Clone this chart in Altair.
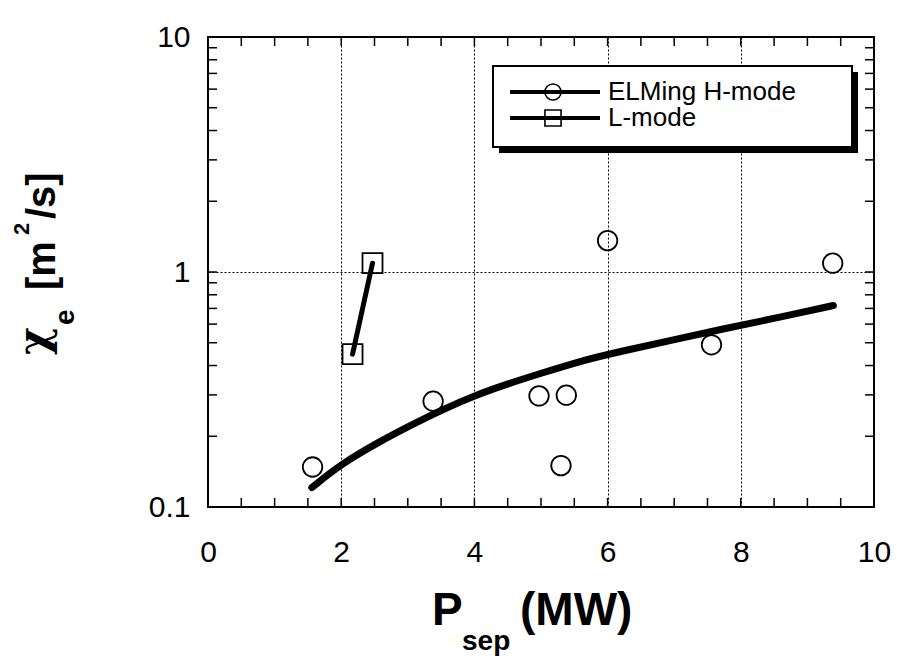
import altair as alt
import pandas as pd

# ---- data ----
h_x = [1.57, 3.38, 4.97, 5.38, 5.30, 6.0, 7.56, 9.38]
h_y = [0.148, 0.282, 0.297, 0.299, 0.150, 1.36, 0.49, 1.09]

l_x = [2.17, 2.47]
l_y = [0.447, 1.09]

fit_x = [1.56, 1.99, 2.58, 3.03, 3.97, 5.12, 5.57, 5.97, 7.94, 8.57, 9.39]
fit_y = [0.121, 0.152, 0.190, 0.222, 0.300, 0.380, 0.415, 0.445, 0.590, 0.640, 0.72]

x_ticks = [0, 2, 4, 6, 8, 10]
y_ticks = [0.1, 1, 10]
x_minor = [0.5, 1, 1.5, 2, 2.5, 3, 3.5, 4, 4.5, 5, 5.5, 6, 6.5, 7, 7.5, 8, 8.5, 9, 9.5]
y_minor = [0.2, 0.3, 0.4, 0.5, 0.6, 0.7, 0.8, 0.9, 1, 2, 3, 4, 5, 6, 7, 8, 9]

legend_labels = ["ELMing H-mode", "L-mode"]

FONT = "Liberation Sans"
W, H = 666, 470

xs = alt.Scale(domain=[0, 10], nice=False, zero=False)
ys = alt.Scale(type="log", domain=[0.1, 10], nice=False)

x_axis = alt.Axis(values=x_ticks, format="d", grid=True, gridDash=[2, 2], gridColor="black",
                  gridWidth=1, gridOpacity=1, ticks=False, domain=False, labelFontSize=30,
                  labelFont=FONT, labelColor="black", labelPadding=30, labelFlush=False)
y_axis = alt.Axis(values=y_ticks, format="~g", grid=True, gridDash=[2, 2], gridColor="black",
                  gridWidth=1, gridOpacity=1, ticks=False, domain=False, labelFontSize=30,
                  labelFont=FONT, labelColor="black", labelPadding=18, labelFlush=False)


def X(field="x"):
    return alt.X(f"{field}:Q", scale=xs, axis=x_axis, title="")


def Y(field="y"):
    return alt.Y(f"{field}:Q", scale=ys, axis=y_axis, title="")


fit_df = pd.DataFrame({"x": fit_x, "y": fit_y})
h_df = pd.DataFrame({"x": h_x, "y": h_y})
l_df = pd.DataFrame({"x": l_x, "y": l_y})
xt_df = pd.DataFrame({"x": x_minor})
yt_df = pd.DataFrame({"y": y_minor})
one = pd.DataFrame({"a": [0]})

fit = alt.Chart(fit_df).mark_line(color="black", strokeWidth=7, strokeCap="round",
                                  interpolate="basis").encode(x=X(), y=Y())

lline = alt.Chart(l_df).mark_line(color="black", strokeWidth=5, strokeCap="round").encode(
    x=X(), y=Y())

circles = alt.Chart(h_df).mark_point(shape="circle", size=380, filled=False, color="black",
                                     strokeWidth=1.8, opacity=1).encode(x=X(), y=Y())

squares = alt.Chart(l_df).mark_point(shape="square", size=400, filled=False, color="black",
                                     strokeWidth=1.8, opacity=1).encode(x=X(), y=Y())

tick_len = 9
bt = alt.Chart(xt_df).mark_rule(color="black", strokeWidth=1.5).encode(
    x=X(), y=alt.value(H), y2=alt.value(H - tick_len))
tt = alt.Chart(xt_df).mark_rule(color="black", strokeWidth=1.5).encode(
    x=X(), y=alt.value(0), y2=alt.value(tick_len))
lt = alt.Chart(yt_df).mark_rule(color="black", strokeWidth=1.5).encode(
    y=Y(), x=alt.value(0), x2=alt.value(tick_len))
rt = alt.Chart(yt_df).mark_rule(color="black", strokeWidth=1.5).encode(
    y=Y(), x=alt.value(W), x2=alt.value(W - tick_len))

# ---- legend ----
shadow = alt.Chart(one).mark_rect(color="black").encode(
    x=alt.value(291), x2=alt.value(650), y=alt.value(35), y2=alt.value(116))
box = alt.Chart(one).mark_rect(fill="white", stroke="black", strokeWidth=2).encode(
    x=alt.value(285), x2=alt.value(644), y=alt.value(29), y2=alt.value(110))
leg_layers = []
for i, (lab, shp) in enumerate(zip(legend_labels, ["circle", "square"])):
    yy = 55 + 26 * i
    leg_layers.append(alt.Chart(one).mark_rule(color="black", strokeWidth=4).encode(
        x=alt.value(302), x2=alt.value(392), y=alt.value(yy)))
    leg_layers.append(alt.Chart(one).mark_point(shape=shp, size=260, filled=False, color="black",
                                                strokeWidth=1.6, opacity=1).encode(
        x=alt.value(345), y=alt.value(yy)))
    leg_layers.append(alt.Chart(one).mark_text(align="left", baseline="middle", fontSize=26,
                                               font=FONT, color="black").encode(
        x=alt.value(400), y=alt.value(yy), text=alt.value(lab)))


# ---- axis titles (with sub/superscripts) ----
def txt(s, x, y, size, angle=0, font=FONT):
    kw = dict(align="left", baseline="alphabetic", fontSize=size, font=font, fontWeight="bold",
              color="black")
    if angle:
        kw["angle"] = angle
    return alt.Chart(one).mark_text(**kw).encode(x=alt.value(x), y=alt.value(y), text=alt.value(s))


titles = [
    txt("P", 224, 588, 46),
    txt("sep", 254, 613, 28),
    txt("(MW)", 312, 588, 46),
    txt("χ", -160, 318, 42, angle=270, font="DejaVu Serif"),
    txt("e", -134, 288, 28, angle=270),
    txt("[m", -153, 253, 40, angle=270),
    txt("2", -179, 198, 22, angle=270),
    txt("/s]", -153, 182, 40, angle=270),
]

chart = alt.layer(fit, lline, circles, squares, bt, tt, lt, rt, shadow, box,
                  *leg_layers, *titles).properties(
    width=W, height=H,
    padding={"left": 208, "top": 37, "right": 23, "bottom": 151},
    autosize=alt.AutoSizeParams(type="none"),
    background="white",
).configure_view(stroke="black", strokeWidth=2)

chart.save("out.html", embed_options={"renderer": "svg", "actions": False})
